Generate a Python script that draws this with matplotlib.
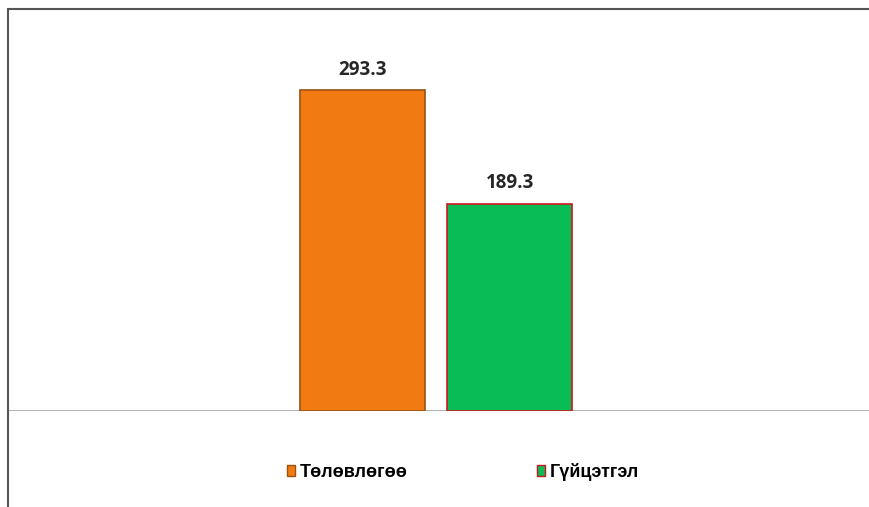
import matplotlib.pyplot as plt
from matplotlib.patches import Rectangle, Patch

# plan vs. actual
series = ['Төлөвлөгөө', 'Гүйцэтгэл']
values = [293.3, 189.3]
face_colors = ['#F27A12', '#09BC56']
edge_colors = ['#9A5210', '#D0161C']

W, H = 870, 507
fig = plt.figure(figsize=(W / 100, H / 100), dpi=100)

# outer frame of the chart area (right/bottom run off the canvas)
fig.patches.append(Rectangle((8 / W, -0.1), 1.2, (H - 9) / H + 0.1,
                             transform=fig.transFigure, fill=False,
                             edgecolor='#555555', lw=1.5))

ax = fig.add_axes([8 / W, (H - 411) / H, (W - 8) / W, (411 - 9) / H])
ax.set_xlim(-3.424, 3.472)
ax.set_ylim(0, 367.3)
ax.axis('off')
ax.axhline(0, color='#A6A6A6', lw=1.2, zorder=1)

offsets = [-0.59, 0.59]
for off, v, fc, ec in zip(offsets, values, face_colors, edge_colors):
    ax.bar(off, v, width=1.0, color=fc, edgecolor=ec, linewidth=1.2, zorder=2)
    ax.text(off, v + 9.5, f'{v:.1f}', ha='center', va='bottom',
            fontsize=13.5, fontweight='bold', family='Open Sans', color='#262626')

handles = [Patch(facecolor=fc, edgecolor=ec, linewidth=1)
           for fc, ec in zip(face_colors, edge_colors)]
fig.legend(handles, series, loc='center', bbox_to_anchor=(463 / W, 1 - 472 / H),
           ncol=2, frameon=False, handlelength=0.45, handleheight=0.5,
           handletextpad=0.25, columnspacing=7.2,
           prop={'family': 'Liberation Sans', 'weight': 'bold', 'size': 13})

fig.savefig('out.png', dpi=100)
